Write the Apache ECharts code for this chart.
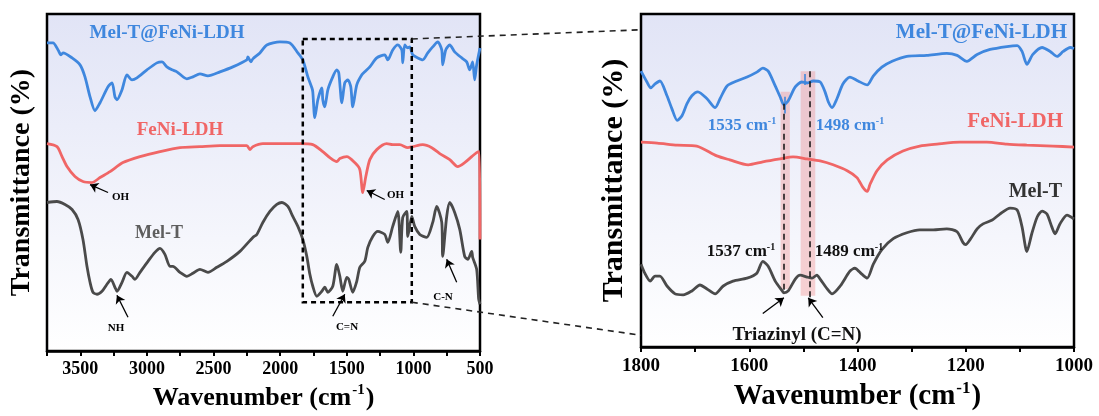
<!DOCTYPE html>
<html>
<head>
<meta charset="utf-8">
<script src="https://cdn.jsdelivr.net/npm/echarts@6/dist/echarts.min.js"></script>
<style>
html, body { margin: 0; padding: 0; background: #fff; }
#chart { width: 1099px; height: 416px; }
</style>
</head>
<body>
<div id="chart"></div>
<script>
// FTIR spectra, [wavenumber (cm-1), offset transmittance (a.u.)]
// Full range 3750-500 cm-1
const wideMelTLDH = [[3750,154.5],[3705,154.5],[3667,151],[3645,148.5],[3630,149.5],[3562,147],[3502,143.5],[3465,137.5],[3427,127.5],[3390,120.5],[3352,124.5],[3292,132.5],[3262,134.5],[3240,127.5],[3225,126],[3187,131],[3150,138.5],[3112,136],[3075,137],[3000,141],[2925,144.5],[2887,145],[2850,142.5],[2812,141],[2775,140],[2700,136.5],[2655,137.5],[2602,139],[2542,138],[2452,140],[2355,142.5],[2250,146],[2242,147.5],[2220,145],[2205,146.5],[2152,149.5],[2100,153.5],[2002,155],[1927,154.5],[1867,149.5],[1830,146],[1792,137.5],[1762,132],[1755,130],[1740,117],[1717,126],[1687,132],[1680,126],[1665,122.5],[1642,131],[1605,137.5],[1575,141],[1560,139.5],[1537,124.5],[1515,134.5],[1492,136],[1470,132.5],[1455,122.5],[1425,133.5],[1387,138.5],[1365,140],[1327,142.5],[1275,147],[1215,148.5],[1192,146],[1155,151],[1117,153.5],[1087,151],[1080,144.5],[1065,153.5],[1042,152],[1027,152.5],[1005,148.5],[967,147],[930,146],[892,149.5],[855,152.5],[817,155],[787,151],[780,143.5],[757,151],[727,153.5],[690,150],[637,147],[600,145],[577,141],[555,145],[540,136],[525,143.5],[500,152]];
const wideLDH = [[3750,104],[3675,102.5],[3637,97.5],[3600,92.5],[3540,87.5],[3480,85],[3412,84.5],[3352,87],[3277,90],[3180,94.5],[3052,97.5],[2902,100],[2752,102],[2602,102.5],[2452,103],[2250,103],[2227,101],[2205,102.5],[2130,104],[1852,104],[1755,103.5],[1680,100],[1627,97],[1575,95],[1552,96.5],[1500,97.5],[1440,94.5],[1402,91],[1380,79.5],[1357,87.5],[1327,96],[1275,101],[1200,104],[1155,103.5],[1102,103.5],[1042,102],[1005,102.5],[930,103.5],[862,102],[802,99],[727,96],[667,92.5],[615,94.5],[562,97.5],[525,99.5],[505,100],[500,56]];
const wideMelT = [[3750,74.5],[3675,75],[3615,73.5],[3562,71],[3517,66],[3480,56],[3450,42.5],[3427,34.5],[3405,29.5],[3375,28.5],[3337,30],[3300,33.5],[3270,36],[3240,32],[3225,30],[3187,34.5],[3150,39.5],[3112,37.5],[3090,36],[3052,39.5],[2992,45],[2940,49.5],[2902,51.5],[2865,48.5],[2827,42.5],[2805,42.5],[2752,39.5],[2700,37.5],[2655,39],[2602,41],[2542,39.5],[2475,42],[2400,45],[2302,50],[2205,57],[2175,58.5],[2130,64.5],[2077,70],[2025,73.5],[1987,74.5],[1942,72.5],[1905,67.5],[1867,62.5],[1830,56],[1800,47.5],[1777,38.5],[1755,32.5],[1725,27.5],[1687,30],[1665,32],[1642,29.5],[1605,32.5],[1575,43.5],[1552,37.5],[1530,30],[1500,37],[1485,36],[1455,29.5],[1425,35],[1402,42],[1365,45],[1342,52],[1305,57.5],[1267,60],[1215,58.5],[1192,54.5],[1155,62.5],[1117,70],[1095,49.5],[1080,67],[1050,70],[1042,57.5],[1012,67.5],[990,62.5],[952,58.5],[900,57],[855,64.5],[825,72.5],[787,64.5],[780,47.5],[750,67.5],[727,74.5],[690,69.5],[652,61],[615,47.5],[592,46],[562,50],[555,47],[525,41],[510,26],[500,23.5]];

// Expanded range 1800-1000 cm-1
const zoomMelTLDH = [[1800,140],[1789,134.5],[1782,131.5],[1774,133.5],[1765,135],[1752,127.5],[1743,121],[1733,115],[1724,117.5],[1715,123.5],[1706,127.5],[1695,129.5],[1678,126],[1663,121.5],[1654,126],[1641,132.5],[1623,135],[1604,137],[1586,139.5],[1575,141.5],[1565,140],[1552,132.5],[1543,127],[1536,123],[1528,125],[1515,132],[1503,134.5],[1493,134],[1482,135],[1469,134.5],[1460,129.5],[1454,124.5],[1447,121.5],[1438,126],[1427,133.5],[1414,137],[1399,135],[1382,133],[1371,137.5],[1355,142],[1336,145],[1309,147.5],[1272,148],[1235,149],[1216,148],[1198,145],[1179,148.5],[1155,151],[1124,152.5],[1105,153],[1096,150],[1087,143.5],[1076,148.5],[1059,152],[1044,150],[1031,147.5],[1020,150],[1007,152],[1000,151.5]];
const zoomLDH = [[1800,104],[1770,103.5],[1733,102.5],[1697,102],[1660,97],[1636,95],[1602,92.5],[1575,94],[1543,95.5],[1519,96.5],[1493,95.5],[1469,94.5],[1445,92.5],[1419,89.5],[1401,86],[1390,81],[1382,79],[1377,82.5],[1364,89.5],[1345,95],[1316,99.5],[1285,102],[1253,103],[1211,104],[1161,104],[1124,103],[1087,102.5],[1039,102],[1000,101.5]];
const zoomMelT = [[1800,42],[1793,37.5],[1783,33.5],[1774,36],[1765,36],[1752,31],[1737,27],[1722,26.5],[1706,28.5],[1691,31.5],[1678,29.5],[1663,27],[1648,31],[1630,33.5],[1604,35],[1586,37.5],[1575,43.5],[1565,41],[1552,33.5],[1539,28.5],[1536,27.5],[1528,28.5],[1515,34.5],[1506,36.5],[1493,35.5],[1484,35],[1475,36.5],[1469,34.5],[1456,29.5],[1447,27],[1432,31],[1414,38.5],[1405,40],[1392,37],[1382,35],[1371,42],[1355,49.5],[1334,55],[1309,58],[1285,59.5],[1260,59.5],[1235,60],[1216,58.5],[1205,53],[1200,52],[1192,54.5],[1179,60],[1168,62.5],[1151,64.5],[1137,67.5],[1118,70.5],[1105,69.5],[1096,61],[1087,48.5],[1078,57.5],[1068,66],[1059,69],[1050,67.5],[1041,61],[1035,57.5],[1026,62.5],[1013,67],[1000,65]];

// Labelled axis ticks
const wideTicks = [3500, 3000, 2500, 2000, 1500, 1000, 500];
const zoomTicks = [1800, 1600, 1400, 1200, 1000];

// Assigned triazinyl C=N bands
const peakMelTLDH = [1535, 1498];
const peakMelT = [1537, 1489];

const SERIF = '"Liberation Serif", "Times New Roman", serif';
const BLUE = '#3f87de';
const RED = '#f06666';
const GRAY = '#4a4a4a';

const chart = echarts.init(document.getElementById('chart'), null, { renderer: 'canvas' });

function panelBg() {
  return new echarts.graphic.LinearGradient(0, 0, 0, 1, [
    { offset: 0, color: '#e1e4f6' },
    { offset: 1, color: '#ffffff' }
  ]);
}

function xAxisFor(gridIndex, min, max, step, ticks, labelSize, nameSize, gap) {
  return {
    gridIndex, type: 'value', inverse: true, min, max, interval: step,
    axisLine: { show: true, onZero: false, lineStyle: { color: '#000', width: 2.5 } },
    axisTick: { show: true, inside: false, length: 5, lineStyle: { color: '#000', width: 2 } },
    splitLine: { show: false },
    axisLabel: {
      interval: 0, margin: 9, color: '#000', fontFamily: SERIF, fontWeight: 'bold', fontSize: labelSize,
      formatter: v => (ticks.includes(v) ? String(v) : '')
    },
    name: '{t|Wavenumber (cm}{s|-1}{t|)}',
    nameLocation: 'middle', nameGap: gap,
    nameTextStyle: {
      rich: {
        t: { fontFamily: SERIF, fontWeight: 'bold', fontSize: nameSize, color: '#000', lineHeight: nameSize + 4 },
        s: { fontFamily: SERIF, fontWeight: 'bold', fontSize: Math.round(nameSize * 0.58), color: '#000', verticalAlign: 'top', padding: [0, 1, 0, 1] }
      }
    }
  };
}

function yAxisFor(gridIndex, nameSize, gap) {
  return {
    gridIndex, type: 'value', min: 0, max: 169,
    axisLine: { show: false }, axisTick: { show: false }, axisLabel: { show: false }, splitLine: { show: false },
    name: 'Transmittance (%)', nameLocation: 'middle', nameGap: gap, nameRotate: 90,
    nameTextStyle: { fontFamily: SERIF, fontWeight: 'bold', fontSize: nameSize, color: '#000' }
  };
}

function spectrum(data, color, xi, extra) {
  return Object.assign({
    type: 'line', data, xAxisIndex: xi, yAxisIndex: xi,
    showSymbol: false, smooth: 0.25, animation: false,
    lineStyle: { color, width: 2.8 }, itemStyle: { color }, silent: true
  }, extra || {});
}

// Small pointer arrows from a label towards a band
function arrows(list) {
  return {
    silent: true, animation: false,
    symbol: ['none', 'arrow'], symbolSize: 8,
    label: { show: false },
    lineStyle: { color: '#000', width: 1.3, type: 'solid' },
    itemStyle: { color: '#000' },
    data: list.map(a => [{ coord: a[0] }, { coord: a[1] }])
  };
}

const option = {
  animation: false,
  backgroundColor: '#fff',
  grid: [
    { left: 47, top: 14, width: 433, height: 338, show: true, borderColor: '#000', borderWidth: 2.5, backgroundColor: panelBg() },
    { left: 641, top: 14, width: 433, height: 338, show: true, borderColor: '#000', borderWidth: 2.5, backgroundColor: panelBg() }
  ],
  xAxis: [
    xAxisFor(0, 500, 3750, 250, wideTicks, 18, 26, 31),
    xAxisFor(1, 1000, 1800, 100, zoomTicks, 19, 29, 30)
  ],
  yAxis: [
    yAxisFor(0, 28, 11),
    yAxisFor(1, 30, 12)
  ],
  series: [
    spectrum(wideMelTLDH, BLUE, 0),
    spectrum(wideLDH, RED, 0, {
      markLine: arrows([[[3292, 79.5], [3427, 83.5]], [[1215, 76], [1350, 80.5]]])
    }),
    spectrum(wideMelT, GRAY, 0, {
      markLine: arrows([[[3142, 17], [3225, 28]], [[1605, 17.5], [1515, 28.5]], [[675, 34.5], [750, 46]]])
    }),
    spectrum(zoomLDH, RED, 1, {
      markArea: {
        silent: true,
        itemStyle: { color: 'rgba(238,140,140,0.38)' },
        data: [
          [{ coord: [1542, 129.5] }, { coord: [1525, 29.5] }],
          [{ coord: [1505, 140] }, { coord: [1478, 26] }]
        ]
      }
    }),
    spectrum(zoomMelTLDH, BLUE, 1, {
      markLine: {
        silent: true, animation: false, symbol: 'none', label: { show: false },
        lineStyle: { color: BLUE, width: 1.6, type: 'solid' },
        data: [
          [{ coord: [peakMelTLDH[0], 127] }, { coord: [peakMelTLDH[0], 118.5] }],
          [{ coord: [peakMelTLDH[1], 138.5] }, { coord: [peakMelTLDH[1], 133] }]
        ]
      }
    }),
    spectrum(zoomMelT, GRAY, 1, {
      markLine: {
        silent: true, animation: false, symbol: 'none', label: { show: false },
        lineStyle: { color: '#111', width: 1.5, type: [6, 4] },
        data: [
          [{ coord: [peakMelT[0], 123.5] }, { coord: [peakMelT[0], 28] }],
          [{ coord: [peakMelT[1], 140] }, { coord: [peakMelT[1], 25] }]
        ]
      }
    }),
    spectrum([], GRAY, 1, {
      markLine: arrows([[[1575, 17], [1536, 25]], [[1464, 15], [1491, 25]]])
    })
  ]
};

chart.setOption(option);

// Annotation layer: series names, peak labels, zoom box and its connectors
function text(x, y, content, size, color, align, rich) {
  const style = {
    text: content, x, y, fill: color, align: align || 'center', verticalAlign: 'middle',
    fontFamily: SERIF, fontWeight: 'bold', fontSize: size
  };
  if (rich) style.rich = rich;
  return { type: 'text', z: 100, silent: true, style };
}
function wn(size, color) {
  return {
    n: { fontFamily: SERIF, fontWeight: 'bold', fontSize: size, fill: color, lineHeight: size + 2 },
    s: { fontFamily: SERIF, fontWeight: 'bold', fontSize: Math.round(size * 0.6), fill: color, verticalAlign: 'top' }
  };
}

const px = (g, pt) => chart.convertToPixel({ gridIndex: g }, pt);
const boxTL = px(0, [1830, 156.5]);
const boxBR = px(0, [1012, 24.5]);
const linkTop = px(1, [1800, 161]);
const linkBot = px(1, [1800, 6]);

chart.setOption({
  graphic: [
    // left panel
    text(167, 33, 'Mel-T@FeNi-LDH', 19, BLUE),
    text(180, 130, 'FeNi-LDH', 19, RED),
    text(159, 233, 'Mel-T', 18, '#5e5e5e'),
    text(112, 197, 'OH', 11, '#000', 'left'),
    text(116, 328, 'NH', 11, '#000'),
    text(387, 195, 'OH', 11, '#000', 'left'),
    text(347, 327, 'C=N', 11, '#000'),
    text(443, 297, 'C-N', 11, '#000'),
    // right panel
    text(1067, 33, 'Mel-T@FeNi-LDH', 21, BLUE, 'right'),
    text(1063, 122, 'FeNi-LDH', 21, RED, 'right'),
    text(1062, 192, 'Mel-T', 20, '#333', 'right'),
    text(742, 126, '{n|' + peakMelTLDH[0] + ' cm}{s|-1}', 17, BLUE, 'center', wn(17, BLUE)),
    text(850, 126, '{n|' + peakMelTLDH[1] + ' cm}{s|-1}', 17, BLUE, 'center', wn(17, BLUE)),
    text(741, 252, '{n|' + peakMelT[0] + ' cm}{s|-1}', 17, '#111', 'center', wn(17, '#111')),
    text(849, 252, '{n|' + peakMelT[1] + ' cm}{s|-1}', 17, '#111', 'center', wn(17, '#111')),
    text(797, 335, 'Triazinyl (C=N)', 19, '#111'),
    // zoom region box and connectors
    {
      type: 'rect', z: 90, silent: true,
      shape: { x: boxTL[0], y: boxTL[1], width: boxBR[0] - boxTL[0], height: boxBR[1] - boxTL[1] },
      style: { fill: 'none', stroke: '#000', lineWidth: 2.5, lineDash: [5, 4] }
    },
    {
      type: 'line', z: 90, silent: true,
      shape: { x1: boxBR[0], y1: boxTL[1], x2: linkTop[0], y2: linkTop[1] },
      style: { stroke: '#222', lineWidth: 1.6, lineDash: [6, 5] }
    },
    {
      type: 'line', z: 90, silent: true,
      shape: { x1: boxBR[0], y1: boxBR[1], x2: linkBot[0], y2: linkBot[1] },
      style: { stroke: '#222', lineWidth: 1.6, lineDash: [6, 5] }
    }
  ]
});
</script>
</body>
</html>
